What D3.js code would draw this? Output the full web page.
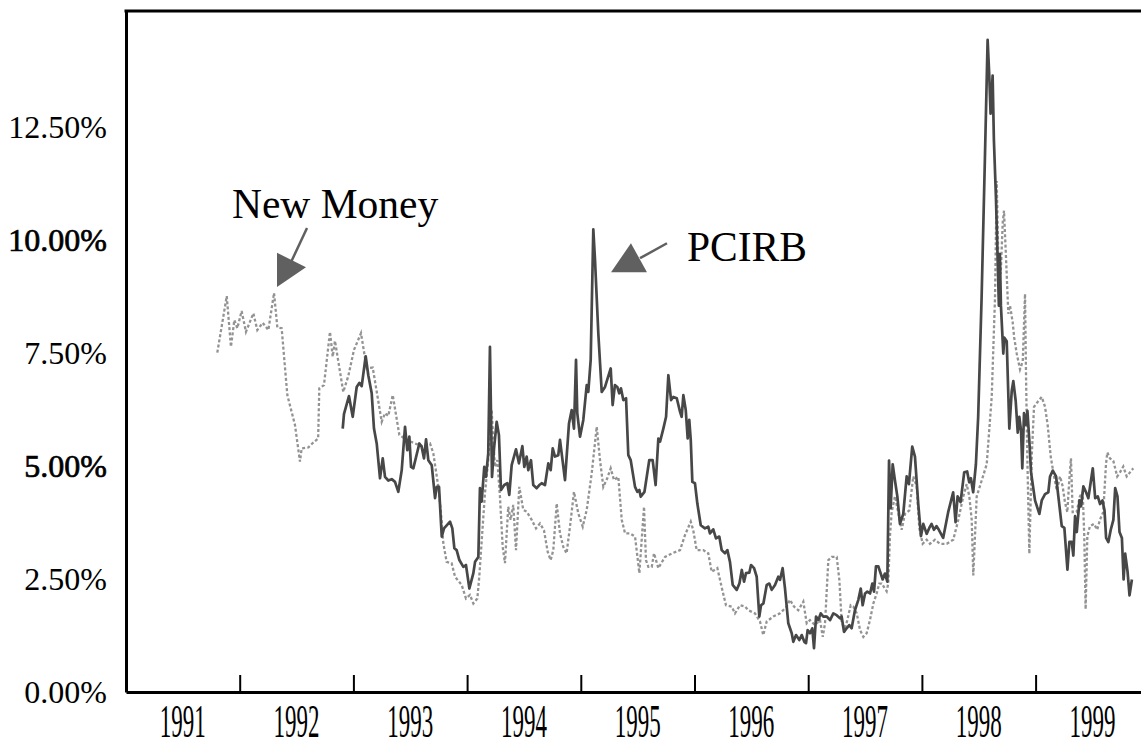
<!DOCTYPE html>
<html>
<head>
<meta charset="utf-8">
<script src="https://cdn.jsdelivr.net/npm/d3@7"></script>
<style>
  body { margin: 0; background: #fff; }
  svg { display: block; font-family: "Liberation Serif", "Times New Roman", serif; }
</style>
</head>
<body>
<svg id="canvas" width="1141" height="745"></svg>
<script>
// Data: [year as decimal, rate in %]

let yearLabels = ["1991", "1992", "1993", "1994", "1995", "1996", "1997", "1998", "1999"];
let yearTicks = [1992, 1993, 1994, 1995, 1996, 1997, 1998, 1999];
let rateTicks = [0, 2.5, 5, 7.5, 10, 12.5];
let noteLabels = ["New Money", "PCIRB"];

let newMoney = [
  [1991.803, 7.51], [1991.886, 8.76], [1991.923, 7.64], [1991.953, 8.23], [1991.979, 8.05],
  [1992.017, 8.43], [1992.055, 7.97], [1992.12, 8.38], [1992.155, 8.01], [1992.202, 8.17],
  [1992.252, 8.01], [1992.302, 8.83], [1992.331, 8.07], [1992.369, 8.05], [1992.419, 6.57],
  [1992.486, 5.91], [1992.53, 5.10], [1992.545, 5.39], [1992.603, 5.41], [1992.647, 5.52],
  [1992.69, 5.61], [1992.70, 6.72], [1992.741, 6.79], [1992.794, 7.97], [1992.818, 7.42],
  [1992.838, 7.77], [1992.911, 6.64], [1992.955, 6.99], [1993.005, 7.57], [1993.067, 7.94],
  [1993.117, 7.16], [1993.17, 7.18], [1993.249, 5.98], [1993.278, 6.17], [1993.307, 6.11],
  [1993.346, 6.57], [1993.404, 5.69], [1993.469, 5.58], [1993.542, 5.50], [1993.60, 5.44],
  [1993.674, 5.50], [1993.703, 5.28], [1993.747, 4.54], [1993.768, 4.03], [1993.791, 3.29],
  [1993.82, 2.88], [1993.864, 2.85], [1993.894, 2.55], [1993.952, 2.37], [1993.99, 2.07],
  [1994.025, 2.15], [1994.055, 1.96], [1994.09, 2.07], [1994.107, 2.55], [1994.128, 3.33],
  [1994.157, 4.40], [1994.186, 5.13], [1994.216, 6.24], [1994.23, 5.58], [1994.245, 4.98],
  [1994.266, 5.13], [1994.289, 4.32], [1994.313, 3.21], [1994.333, 2.85], [1994.362, 4.10],
  [1994.383, 3.81], [1994.406, 4.14], [1994.43, 3.14], [1994.459, 4.54], [1994.494, 4.03],
  [1994.524, 3.99], [1994.568, 3.81], [1994.606, 3.62], [1994.641, 3.73], [1994.676, 3.58],
  [1994.709, 3.10], [1994.735, 2.92], [1994.758, 3.14], [1994.788, 4.17], [1994.817, 3.51],
  [1994.846, 3.21], [1994.875, 3.07], [1994.905, 3.66], [1994.94, 4.43], [1994.978, 3.95],
  [1995.017, 3.66], [1995.052, 4.03], [1995.096, 4.84], [1995.14, 5.87], [1995.169, 5.13],
  [1995.198, 4.54], [1995.233, 4.73], [1995.263, 4.95], [1995.292, 4.69], [1995.33, 4.76],
  [1995.36, 3.81], [1995.389, 3.51], [1995.433, 3.51], [1995.477, 3.44], [1995.515, 2.63],
  [1995.556, 4.10], [1995.573, 2.92], [1995.594, 2.77], [1995.624, 2.77], [1995.644, 3.07],
  [1995.682, 2.74], [1995.741, 2.99], [1995.814, 3.08], [1995.873, 3.14], [1995.916, 3.47],
  [1995.967, 3.77], [1995.989, 3.58], [1996.019, 3.14], [1996.077, 3.14], [1996.121, 3.07],
  [1996.151, 2.66], [1996.201, 2.74], [1996.248, 2.22], [1996.277, 1.92], [1996.327, 1.89],
  [1996.356, 1.74], [1996.40, 1.92], [1996.444, 1.89], [1996.473, 1.81], [1996.532, 1.74],
  [1996.576, 1.56], [1996.605, 1.26], [1996.635, 1.56], [1996.693, 1.67], [1996.752, 1.74],
  [1996.811, 1.89], [1996.84, 2.04], [1996.875, 1.89], [1996.913, 1.81], [1996.957, 2.00],
  [1996.987, 1.52], [1997.016, 1.59], [1997.06, 1.48], [1997.104, 1.59], [1997.128, 1.22],
  [1997.148, 1.52], [1997.177, 2.92], [1997.207, 2.99], [1997.251, 2.99], [1997.274, 2.48],
  [1997.295, 1.52], [1997.324, 1.41], [1997.344, 1.59], [1997.374, 1.92], [1997.397, 1.89],
  [1997.427, 1.74], [1997.456, 1.37], [1997.485, 1.22], [1997.514, 1.30], [1997.544, 1.60],
  [1997.573, 1.96], [1997.602, 2.18], [1997.625, 2.40], [1997.646, 2.40], [1997.69, 2.23],
  [1997.704, 2.40], [1997.719, 3.45], [1997.734, 3.98], [1997.763, 4.33], [1997.784, 4.07],
  [1997.822, 3.59], [1997.851, 3.94], [1997.889, 4.02], [1997.924, 4.77], [1997.954, 4.55],
  [1997.977, 3.63], [1998.007, 3.28], [1998.042, 3.37], [1998.071, 3.28], [1998.115, 3.37],
  [1998.159, 3.28], [1998.218, 3.28], [1998.276, 3.37], [1998.32, 3.81], [1998.364, 4.33],
  [1998.394, 4.60], [1998.417, 4.33], [1998.438, 3.81], [1998.452, 2.58], [1998.482, 4.33],
  [1998.526, 4.68], [1998.57, 5.04], [1998.614, 6.53], [1998.643, 8.72], [1998.658, 11.31],
  [1998.672, 9.60], [1998.693, 9.25], [1998.711, 10.39], [1998.722, 10.65], [1998.74, 9.60],
  [1998.76, 8.37], [1998.775, 8.55], [1998.798, 8.19], [1998.812, 7.84], [1998.834, 7.49],
  [1998.863, 7.14], [1998.887, 7.32], [1998.907, 8.81], [1998.916, 6.97], [1998.927, 5.21],
  [1998.945, 3.06], [1998.966, 5.21], [1998.986, 6.31], [1999.024, 6.44], [1999.054, 6.53],
  [1999.083, 6.31], [1999.106, 5.91], [1999.133, 5.21], [1999.156, 4.86], [1999.186, 4.46],
  [1999.215, 4.77], [1999.238, 4.55], [1999.258, 4.20], [1999.279, 3.98], [1999.296, 4.68],
  [1999.311, 5.17], [1999.326, 3.98], [1999.361, 3.98], [1999.39, 4.33], [1999.414, 4.42],
  [1999.428, 3.45], [1999.44, 1.83], [1999.455, 3.45], [1999.478, 3.67], [1999.513, 3.72],
  [1999.542, 3.59], [1999.566, 3.81], [1999.595, 3.98], [1999.619, 5.04], [1999.631, 5.30],
  [1999.654, 5.17], [1999.683, 5.12], [1999.718, 4.77], [1999.742, 4.86], [1999.771, 4.99],
  [1999.801, 4.77], [1999.83, 4.86], [1999.859, 4.95]
];

let pcirb = [
  [1992.906, 5.83], [1992.917, 6.15], [1992.961, 6.55], [1992.994, 6.09], [1993.029, 6.75],
  [1993.052, 6.84], [1993.073, 6.77], [1993.108, 7.43], [1993.131, 7.01], [1993.161, 6.61],
  [1993.181, 5.83], [1993.205, 5.50], [1993.234, 4.73], [1993.258, 5.17], [1993.278, 4.76],
  [1993.307, 4.68], [1993.337, 4.71], [1993.366, 4.65], [1993.395, 4.43], [1993.425, 4.91],
  [1993.454, 5.87], [1993.474, 5.35], [1993.492, 5.65], [1993.507, 4.98], [1993.527, 4.95],
  [1993.58, 5.50], [1993.60, 5.43], [1993.621, 5.17], [1993.639, 5.59], [1993.659, 5.13],
  [1993.689, 5.02], [1993.718, 4.29], [1993.733, 4.54], [1993.753, 4.54], [1993.777, 3.44],
  [1993.797, 3.62], [1993.85, 3.77], [1993.87, 3.62], [1993.888, 3.18], [1993.908, 3.14],
  [1993.932, 2.92], [1993.967, 2.77], [1993.99, 2.81], [1994.02, 2.29], [1994.055, 2.63],
  [1994.07, 2.88], [1994.099, 2.99], [1994.113, 4.51], [1994.128, 4.21], [1994.151, 4.98],
  [1994.166, 4.76], [1994.186, 5.28], [1994.201, 7.64], [1994.219, 4.76], [1994.237, 5.39],
  [1994.26, 5.98], [1994.28, 5.69], [1994.298, 4.47], [1994.327, 4.58], [1994.354, 4.62],
  [1994.371, 4.36], [1994.392, 5.02], [1994.43, 5.37], [1994.456, 5.06], [1994.486, 5.44],
  [1994.503, 4.98], [1994.524, 5.21], [1994.538, 4.91], [1994.562, 5.13], [1994.582, 4.58],
  [1994.612, 4.51], [1994.635, 4.58], [1994.656, 4.62], [1994.685, 4.58], [1994.714, 5.06],
  [1994.735, 4.91], [1994.753, 5.39], [1994.773, 5.21], [1994.802, 5.24], [1994.817, 5.58],
  [1994.861, 4.69], [1994.896, 5.94], [1994.92, 6.24], [1994.94, 5.83], [1994.958, 7.35],
  [1994.969, 6.17], [1994.993, 5.65], [1995.022, 6.02], [1995.052, 6.79], [1995.066, 6.64],
  [1995.087, 7.35], [1995.11, 10.24], [1995.125, 9.56], [1995.154, 7.94], [1995.184, 6.64],
  [1995.213, 6.75], [1995.263, 7.16], [1995.28, 6.35], [1995.30, 6.79], [1995.321, 6.75],
  [1995.338, 6.61], [1995.353, 6.72], [1995.374, 6.46], [1995.398, 6.50], [1995.418, 5.24],
  [1995.439, 5.13], [1995.477, 4.54], [1995.497, 4.43], [1995.515, 4.47], [1995.527, 4.32],
  [1995.56, 4.43], [1995.602, 5.13], [1995.632, 5.13], [1995.658, 4.58], [1995.682, 5.61],
  [1995.697, 5.54], [1995.726, 5.83], [1995.75, 6.09], [1995.77, 7.01], [1995.794, 6.46],
  [1995.814, 6.53], [1995.844, 6.50], [1995.873, 6.20], [1995.887, 6.09], [1995.902, 6.57],
  [1995.923, 6.24], [1995.94, 5.61], [1995.954, 6.02], [1995.967, 5.58], [1995.981, 4.65],
  [1996.004, 4.62], [1996.025, 4.17], [1996.055, 3.69], [1996.092, 3.62], [1996.121, 3.66],
  [1996.136, 3.51], [1996.165, 3.60], [1996.189, 3.40], [1996.218, 3.44], [1996.239, 3.14],
  [1996.268, 3.07], [1996.289, 3.14], [1996.312, 2.88], [1996.336, 2.37], [1996.371, 2.26],
  [1996.395, 2.40], [1996.416, 2.70], [1996.436, 2.44], [1996.453, 2.63], [1996.482, 2.64],
  [1996.497, 2.81], [1996.524, 2.74], [1996.547, 2.55], [1996.57, 1.67], [1996.585, 1.92],
  [1996.606, 1.96], [1996.635, 2.37], [1996.658, 2.40], [1996.679, 2.26], [1996.708, 2.37],
  [1996.737, 2.55], [1996.752, 2.48], [1996.775, 2.74], [1996.796, 2.29], [1996.825, 1.52],
  [1996.855, 1.30], [1996.869, 1.11], [1996.893, 1.26], [1996.922, 1.15], [1996.943, 1.26],
  [1996.966, 1.11], [1996.981, 1.08], [1996.995, 1.37], [1997.016, 1.30], [1997.036, 1.41],
  [1997.051, 0.97], [1997.069, 1.67], [1997.089, 1.59], [1997.11, 1.74], [1997.133, 1.67],
  [1997.163, 1.67], [1997.192, 1.59], [1997.221, 1.74], [1997.25, 1.70], [1997.28, 1.63],
  [1997.294, 1.67], [1997.315, 1.33], [1997.338, 1.41], [1997.361, 1.48], [1997.382, 1.41],
  [1997.411, 1.81], [1997.441, 2.04], [1997.462, 2.29], [1997.479, 1.92], [1997.50, 2.18],
  [1997.52, 2.22], [1997.544, 2.18], [1997.564, 2.40], [1997.579, 2.22], [1997.596, 2.78],
  [1997.617, 2.78], [1997.655, 2.49], [1997.675, 2.62], [1997.696, 2.44], [1997.711, 5.12],
  [1997.725, 4.07], [1997.743, 5.04], [1997.763, 4.68], [1997.784, 4.33], [1997.807, 3.72],
  [1997.836, 3.94], [1997.866, 4.77], [1997.886, 4.60], [1997.915, 5.43], [1997.939, 5.21],
  [1997.968, 4.16], [1997.992, 3.45], [1998.012, 3.72], [1998.042, 3.50], [1998.065, 3.63],
  [1998.085, 3.72], [1998.106, 3.59], [1998.129, 3.67], [1998.149, 3.59], [1998.187, 3.41],
  [1998.231, 3.98], [1998.275, 4.42], [1998.296, 3.76], [1998.314, 4.33], [1998.34, 4.20],
  [1998.372, 4.86], [1998.398, 4.88], [1998.416, 4.64], [1998.431, 4.73], [1998.451, 4.42],
  [1998.475, 5.04], [1998.495, 6.09], [1998.525, 8.72], [1998.554, 11.79], [1998.578, 14.43],
  [1998.592, 13.68], [1998.604, 12.80], [1998.622, 13.64], [1998.633, 12.23], [1998.651, 10.96],
  [1998.666, 9.60], [1998.677, 8.55], [1998.686, 9.69], [1998.695, 8.55], [1998.716, 7.49],
  [1998.725, 7.84], [1998.746, 7.76], [1998.769, 5.83], [1998.79, 6.66], [1998.804, 6.88],
  [1998.825, 6.44], [1998.843, 5.74], [1998.857, 6.09], [1998.872, 5.78], [1998.883, 4.95],
  [1998.898, 6.17], [1998.913, 5.91], [1998.928, 6.22], [1998.945, 5.56], [1998.96, 4.86],
  [1998.995, 4.24], [1999.033, 3.94], [1999.054, 4.24], [1999.083, 4.38], [1999.112, 4.42],
  [1999.127, 4.77], [1999.151, 4.90], [1999.18, 4.77], [1999.20, 4.33], [1999.23, 3.67],
  [1999.253, 3.63], [1999.28, 2.71], [1999.297, 3.32], [1999.318, 3.32], [1999.332, 3.02],
  [1999.347, 3.89], [1999.362, 3.54], [1999.386, 4.24], [1999.40, 4.11], [1999.42, 4.55],
  [1999.444, 4.42], [1999.464, 4.29], [1999.503, 4.95], [1999.524, 4.29], [1999.547, 4.33],
  [1999.567, 4.16], [1999.588, 4.24], [1999.606, 4.02], [1999.62, 3.41], [1999.64, 3.32],
  [1999.661, 3.59], [1999.684, 3.81], [1999.70, 4.51], [1999.72, 4.33], [1999.738, 3.54],
  [1999.759, 3.41], [1999.774, 2.49], [1999.788, 3.06], [1999.809, 2.66], [1999.826, 2.14],
  [1999.847, 2.49]
];

// Scales

let canvas = d3.select("#canvas");

let xScale = d3.scaleLinear().domain([1991, 2000]).range([126, 1149.3]);
let yScale = d3.scaleLinear().domain([0, 15.07]).range([692, 11]);

// helper: data units -> pixel pair
let at = (year, rate) => [xScale(year), yScale(rate)];

// Series first, so the frame sits on top of them

let line = d3.line()
  .x((d) => xScale(d[0]))
  .y((d) => yScale(d[1]));

canvas.append("path")
  .datum(newMoney)
  .attr("d", line)
  .attr("fill", "none")
  .attr("stroke", "#939393")
  .attr("stroke-width", 2.3)
  .attr("stroke-dasharray", "3,2.2");

canvas.append("path")
  .datum(pcirb)
  .attr("d", line)
  .attr("fill", "none")
  .attr("stroke", "#474747")
  .attr("stroke-width", 2.7)
  .attr("stroke-linejoin", "round");

// Frame: left axis, bottom axis with inward ticks, top rule (no right side)

let yAxis = canvas.append("g")
  .attr("transform", "translate(126,0)")
  .call(d3.axisLeft(yScale).tickValues(rateTicks).tickSize(0).tickPadding(19)
    .tickFormat((d) => d3.format(".2f")(d) + "%"));

yAxis.select(".domain").attr("stroke", "#000").attr("stroke-width", 3);
yAxis.selectAll("text")
  .attr("font-family", "Liberation Serif, Times New Roman, serif")
  .attr("font-size", 32)
  .attr("fill", "#000")
  .attr("dy", "0.33em")
  // the 10.00% and 5.00% labels come out heavier in the original
  .attr("stroke", (d) => (d === 10 || d === 5 ? "#000" : "none"))
  .attr("stroke-width", 0.7);

let xAxis = canvas.append("g")
  .attr("transform", "translate(0,692)")
  .call(d3.axisBottom(xScale).tickValues(yearTicks).tickSizeInner(-17).tickSizeOuter(0)
    .tickFormat(""));

xAxis.select(".domain").attr("stroke", "#000").attr("stroke-width", 3);
xAxis.selectAll(".tick line").attr("stroke", "#000").attr("stroke-width", 2);

// year labels sit between the ticks, tall and narrow as in the original
canvas.append("g")
  .selectAll("text")
  .data(yearLabels)
  .enter()
  .append("text")
  .attr("transform", (d) => "translate(" + xScale(+d + 0.5) + ",737) scale(0.5,1)")
  .attr("text-anchor", "middle")
  .attr("font-size", 46)
  .attr("fill", "#000")
  .text((d) => d);

canvas.append("line")
  .attr("x1", xScale(1991) - 1.5).attr("x2", 1141)
  .attr("y1", yScale(15.07)).attr("y2", yScale(15.07))
  .attr("stroke", "#000")
  .attr("stroke-width", 3);

// Annotations with arrows

let notes = [
  { label: noteLabels[0], text: at(1991.932, 10.49),
    from: at(1992.592, 10.27), to: at(1992.451, 9.51),
    head: [at(1992.328, 9.72), at(1992.583, 9.40), at(1992.328, 8.96)] },
  { label: noteLabels[1], text: at(1995.934, 9.54),
    from: at(1995.758, 9.93), to: at(1995.521, 9.60),
    head: [at(1995.441, 9.93), at(1995.582, 9.29), at(1995.266, 9.29)] }
];

notes.forEach((n) => {
  canvas.append("text")
    .attr("x", n.text[0])
    .attr("y", n.text[1])
    .attr("font-size", 41.5)
    .attr("fill", "#000")
    .text(n.label);

  canvas.append("line")
    .attr("x1", n.from[0]).attr("y1", n.from[1])
    .attr("x2", n.to[0]).attr("y2", n.to[1])
    .attr("stroke", "#606060")
    .attr("stroke-width", 2.5);

  canvas.append("path")
    .attr("d", "M" + n.head.join("L") + "Z")
    .attr("fill", "#606060");
});
</script>
</body>
</html>
